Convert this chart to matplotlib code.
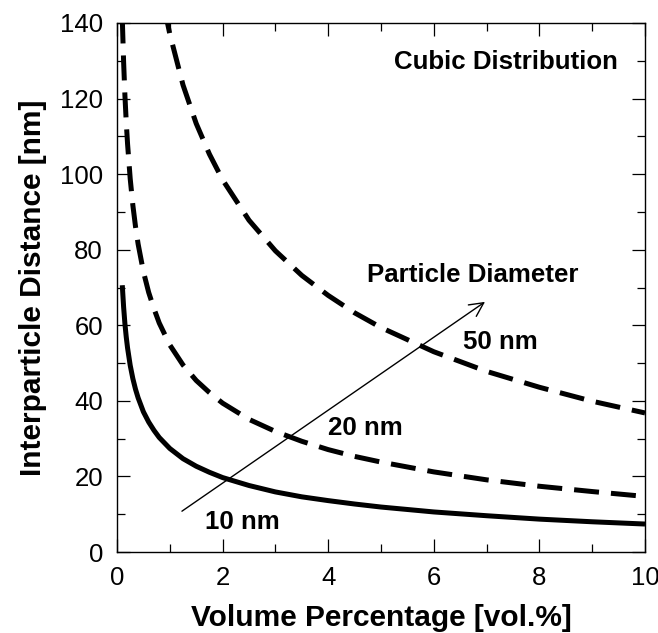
import matplotlib
matplotlib.use("Agg")
import matplotlib.pyplot as plt
from matplotlib.ticker import MultipleLocator

plt.rcParams['font.family'] = ['Liberation Sans', 'DejaVu Sans']

# volume percentage [vol.%] and interparticle distance [nm]
vol = [0.1, 0.125, 0.15, 0.175, 0.2, 0.25, 0.3, 0.35, 0.4, 0.5, 0.6, 0.7, 0.8,
       1.0, 1.25, 1.5, 1.75, 2.0, 2.5, 3.0, 3.5, 4.0, 4.5, 5.0, 6.0, 7.0,
       8.0, 9.0, 10.0]
d10 = [70.6, 64.9, 60.4, 56.9, 54.0, 49.4, 45.9, 43.1, 40.8, 37.1, 34.4,
       32.2, 30.3, 27.4, 24.7, 22.7, 21.1, 19.7, 17.6, 15.9, 14.6, 13.6,
       12.7, 11.9, 10.6, 9.6, 8.7, 8.0, 7.4]
d20 = [141.2, 129.8, 120.8, 113.8, 108.0, 98.8, 91.8, 86.2, 81.5, 74.2, 68.7,
       64.4, 60.6, 54.8, 49.5, 45.4, 42.2, 39.4, 35.1, 31.9, 29.3, 27.1,
       25.3, 23.8, 21.2, 19.1, 17.4, 16.0, 14.7]
vol50 = [0.9, 1.0, 1.25, 1.5, 1.75, 2.0, 2.5, 3.0, 3.5, 4.0, 4.5, 5.0, 6.0,
         7.0, 8.0, 9.0, 10.0]
d50 = [143.8, 137.1, 123.6, 113.4, 105.3, 98.5, 87.8, 79.7, 73.2, 67.9, 63.3,
       59.4, 53.0, 47.8, 43.6, 39.9, 36.8]

fig = plt.figure(figsize=(6.58, 6.33), dpi=100)
ax = fig.add_axes([117 / 658, 1 - 552 / 633, 528 / 658, 529 / 633])

dash = (5.0, 2.4)
ax.plot(vol, d10, color='black', lw=3.6, solid_capstyle='butt')
ax.plot(vol, d20, color='black', lw=3.6, dashes=dash)
ax.plot(vol50, d50, color='black', lw=3.6, dashes=dash)

ax.annotate('', xy=(6.97, 66.2), xytext=(1.23, 10.8),
            arrowprops=dict(arrowstyle='->', lw=1.0, color='black',
                            mutation_scale=25, shrinkA=0, shrinkB=0))

bold = dict(fontsize=18.6, fontweight='bold', color='black')
ax.text(9.49, 129.7, 'Cubic Distribution', ha='right', va='center', **bold)
ax.text(4.73, 73.3, 'Particle Diameter', ha='left', va='center', **bold)
ax.text(6.55, 55.6, '50 nm', ha='left', va='center', **bold)
ax.text(4.0, 32.8, '20 nm', ha='left', va='center', **bold)
ax.text(1.67, 7.9, '10 nm', ha='left', va='center', **bold)

ax.set_xlim(0, 10)
ax.set_ylim(0, 140)
ax.xaxis.set_major_locator(MultipleLocator(2))
ax.xaxis.set_minor_locator(MultipleLocator(1))
ax.yaxis.set_major_locator(MultipleLocator(20))
ax.yaxis.set_minor_locator(MultipleLocator(10))
ax.tick_params(which='both', direction='in', top=True, right=True, width=0.9,
               labelsize=18.5)
ax.tick_params(which='major', length=9.5)
ax.tick_params(which='minor', length=6)
ax.tick_params(axis='y', pad=10)
ax.tick_params(axis='x', pad=10)
for s in ax.spines.values():
    s.set_linewidth(1.0)

ax.set_xlabel('Volume Percentage [vol.%]', fontsize=21.5, fontweight='bold',
              labelpad=10.5)
ax.set_ylabel('Interparticle Distance [nm]', fontsize=21.5, fontweight='bold',
              labelpad=9)

fig.savefig('out.png', dpi=100)
